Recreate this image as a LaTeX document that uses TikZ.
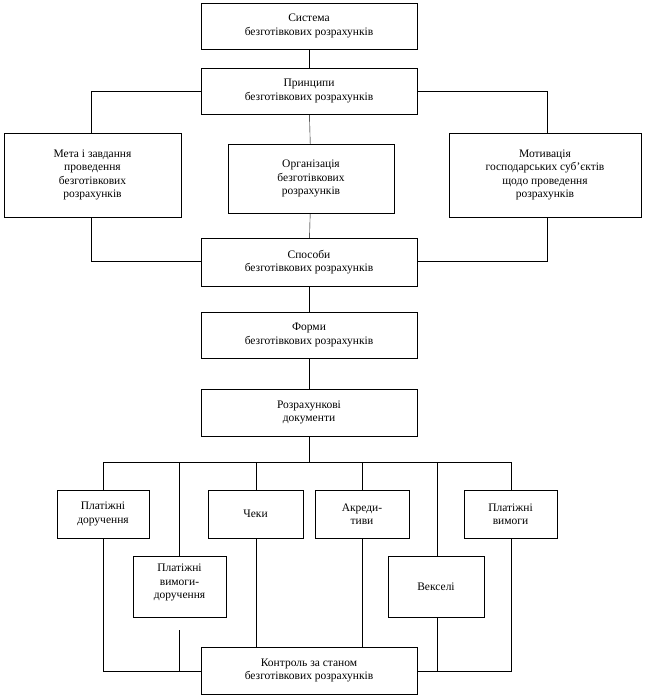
\documentclass[tikz,border=0pt]{standalone}
\usepackage{fontspec}
\setmainfont{Liberation Serif}
\begin{document}
\begin{tikzpicture}[x=1pt,y=-1pt,
  bx/.style={draw,fill=white,align=center,inner sep=0pt,font=\fontsize{11.5}{13.5}\selectfont},
  ln/.style={draw,line width=0.5pt}]
\useasboundingbox (0,0) rectangle (645,697);
\node[bx,minimum width=216,minimum height=46] (sys) at (309,26) {Система\\безготівкових розрахунків};
\node[bx,minimum width=216,minimum height=46] (pr) at (309,91) {Принципи\\безготівкових розрахунків};
\node[bx,minimum width=177,minimum height=84] (meta) at (92.5,175) {Мета і завдання\\проведення\\безготівкових\\розрахунків};
\node[bx,minimum width=166,minimum height=69] (org) at (311,178.5) {Організація\\безготівкових\\розрахунків};
\node[bx,minimum width=192,minimum height=84] (mot) at (545,175) {Мотивація\\господарських суб'єктів\\щодо проведення\\розрахунків};
\node[bx,minimum width=216,minimum height=48] (sp) at (309,262) {Способи\\безготівкових розрахунків};
\node[bx,minimum width=216,minimum height=46] (fo) at (309,335) {Форми\\безготівкових розрахунків};
\node[bx,minimum width=216,minimum height=47] (rd) at (309,412.5) {Розрахункові\\документи};
\node[bx,minimum width=92,minimum height=48] (pd) at (103,514) {Платіжні\\доручення};
\node[bx,minimum width=95,minimum height=48] (ch) at (255.5,514) {Чеки};
\node[bx,minimum width=94,minimum height=48] (ak) at (362,514) {Акреди-\\тиви};
\node[bx,minimum width=93,minimum height=48] (pv) at (510.5,514) {Платіжні\\вимоги};
\node[bx,minimum width=93,minimum height=61] (pvd) at (179.5,586.5) {};
\node[font=\fontsize{11.5}{13.5}\selectfont,align=center,inner sep=0pt,anchor=north] (pvdt) at (179.5,564) {Платіжні\\вимоги-\\доручення};
\node[bx,minimum width=96,minimum height=61] (ve) at (436,586.5) {Векселі};
\node[bx,minimum width=216,minimum height=47] (ko) at (309,670.5) {Контроль за станом\\безготівкових розрахунків};
\begin{scope}[on background layer/.try]
\end{scope}
\draw (sys) -- (pr);
\draw (pr) -- (org);
\draw (org) -- (sp);
\draw (sp) -- (fo);
\draw (fo) -- (rd);
\draw (pr.west) -- (91,91) -- (meta.north -| 91,0);
\draw (pr.east) -- (547,91) -- (mot.north -| 547,0);
\draw (meta.south -| 91,0) -- (91,261) -- (sp.west |- 0,261);
\draw (mot.south -| 547,0) -- (547,261) -- (sp.east |- 0,261);
\coordinate (bus) at (309,462);
\draw (rd) -- (bus);
\draw (103,462) -- (511,462);
\draw (103,462) -- (pd.north);
\draw (179,462) -- (pvd.north -| 179,0);
\draw (256,462) -- (ch.north -| 256,0);
\draw (362,462) -- (ak.north);
\draw (437,462) -- (ve.north -| 437,0);
\draw (511,462) -- (pv.north -| 511,0);
\draw (pd.south) -- (103,671) -- (ko.west |- 0,671);
\draw (pvd.south -| 179,0) -- (179,671);
\draw (ch.south -| 256,0) -- (ko.north -| 256,0);
\draw (ak.south) -- (ko.north -| 362,0);
\draw (ve.south -| 437,0) -- (437,671);
\draw (pv.south -| 511,0) -- (511,671) -- (ko.east |- 0,671);
\draw[fill=white,draw=none] (133.5,617.6) rectangle (225.5,630);
\draw (133,617) -- (226,617);
\node[bx,minimum width=216,minimum height=47] at (309,670.5) {Контроль за станом\\безготівкових розрахунків};
\end{tikzpicture}
\end{document}
